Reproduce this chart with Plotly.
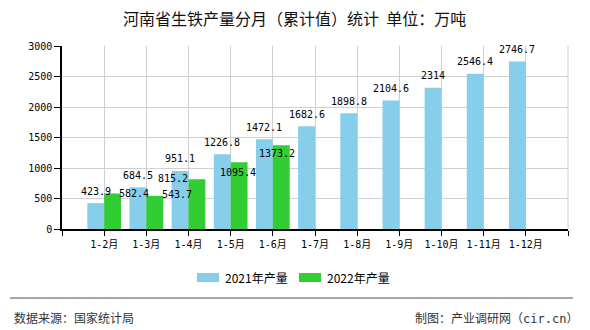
import plotly.graph_objects as go

categories = ["1-2月", "1-3月", "1-4月", "1-5月", "1-6月", "1-7月",
              "1-8月", "1-9月", "1-10月", "1-11月", "1-12月"]
values_2021 = [423.9, 684.5, 951.1, 1226.8, 1472.1, 1682.6,
               1898.8, 2104.6, 2314, 2546.4, 2746.7]
values_2022 = [582.4, 543.7, 815.2, 1095.4, 1373.2]
series_names = ["2021年产量", "2022年产量"]
y_ticks = [0, 500, 1000, 1500, 2000, 2500, 3000]

# label placement tweaks (pixels) for the 2022 series, as in the original
label_dx_2022 = [21, 22, -24, -1, -4]
label_dy_2022 = [0, 1, 1, -10, -8]

BLUE = "#87CEEB"
GREEN = "#32CD32"
MONO = "DejaVu Sans Mono, Noto Sans CJK SC, monospace"
CJK = "Noto Sans CJK SC, sans-serif"

idx = list(range(len(categories)))
fig = go.Figure()
fig.add_trace(go.Bar(x=idx, y=values_2021, name=series_names[0],
                     marker=dict(color=BLUE, line=dict(width=0)), offsetgroup=0))
fig.add_trace(go.Bar(x=idx[:len(values_2022)], y=values_2022, name=series_names[1],
                     marker=dict(color=GREEN, line=dict(width=0)), offsetgroup=1))

annotations = []
for i, v in enumerate(values_2021):
    annotations.append(dict(x=i - 0.2, y=v, xref="x", yref="y", text=f"{v:g}",
                            showarrow=False, yshift=12, yanchor="middle",
                            font=dict(family=MONO, size=10, color="#000")))
for i, v in enumerate(values_2022):
    annotations.append(dict(x=i + 0.2, y=v, xref="x", yref="y", text=f"{v:g}",
                            showarrow=False, xshift=label_dx_2022[i],
                            yshift=label_dy_2022[i], yanchor="middle",
                            font=dict(family=MONO, size=10, color="#000")))

W, H = 590, 330
PL, PR, PT, PB = 62, 568, 46, 229  # plot area in pixels


def paper_x(x):
    return (x - PL) / (PR - PL)


def paper_y(y):
    return (PB - y) / (PB - PT)


shapes = []
# legend (drawn manually to match the wide swatches)
legend_items = [(197, 223, BLUE, series_names[0]), (299, 325, GREEN, series_names[1])]
for sx, tx, col, name in legend_items:
    shapes.append(dict(type="rect", xref="paper", yref="paper",
                       x0=paper_x(sx), x1=paper_x(sx + 22),
                       y0=paper_y(282), y1=paper_y(273),
                       fillcolor=col, line=dict(width=0)))
    annotations.append(dict(xref="paper", yref="paper", x=paper_x(tx),
                            y=paper_y(277.5), xanchor="left", yanchor="middle",
                            text=name, showarrow=False,
                            font=dict(family=CJK, size=12, color="#000")))
# footer line
shapes.append(dict(type="line", xref="paper", yref="paper",
                   x0=paper_x(10), x1=paper_x(573),
                   y0=paper_y(298), y1=paper_y(298),
                   line=dict(color="#888", width=1.5)))
# right border gridline
shapes.append(dict(type="line", xref="paper", yref="paper", x0=1, x1=1, y0=0, y1=1,
                   line=dict(color="#d0d0d0", width=1)))
annotations.append(dict(xref="paper", yref="paper", x=paper_x(12),
                        y=paper_y(317), xanchor="left", yanchor="middle",
                        text="数据来源：国家统计局", showarrow=False,
                        font=dict(family=CJK, size=12, color="#333")))
annotations.append(dict(xref="paper", yref="paper", x=paper_x(580),
                        y=paper_y(317), xanchor="right", yanchor="middle",
                        text="制图：产业调研网（<span style='font-family:DejaVu Sans Mono'>cir.cn</span>）",
                        showarrow=False,
                        font=dict(family=CJK, size=12, color="#333")))
annotations.append(dict(xref="paper", yref="paper", x=paper_x(294),
                        y=paper_y(18), xanchor="center", yanchor="middle",
                        text="河南省生铁产量分月（累计值）统计&nbsp;&nbsp;单位：万吨", showarrow=False,
                        font=dict(family=CJK, size=16, color="#111")))

fig.update_layout(
    width=W, height=H,
    margin=dict(l=PL, r=W - PR, t=PT, b=H - PB),
    paper_bgcolor="white", plot_bgcolor="white",
    barmode="group", bargap=0.2, bargroupgap=0,
    showlegend=False,
    annotations=annotations, shapes=shapes,
    xaxis=dict(range=[-1, len(categories)], tickmode="array",
               tickvals=list(range(-1, len(categories) + 1)),
               ticktext=[""] + categories + [""],
               showgrid=True, gridcolor="#d0d0d0", gridwidth=1,
               showline=True, linecolor="#000", linewidth=1.5,
               ticks="outside", ticklen=5, tickcolor="#000",
               tickfont=dict(family=MONO, size=10, color="#000"),
               zeroline=False, fixedrange=True),
    yaxis=dict(range=[0, 3000], tickmode="array", tickvals=y_ticks,
               showgrid=True, gridcolor="#d0d0d0", gridwidth=1,
               showline=True, linecolor="#000", linewidth=1.5,
               ticks="outside", ticklen=6, tickcolor="#000",
               tickfont=dict(family=MONO, size=10, color="#000"),
               zeroline=False, fixedrange=True),
)

fig.write_html("out.html")
